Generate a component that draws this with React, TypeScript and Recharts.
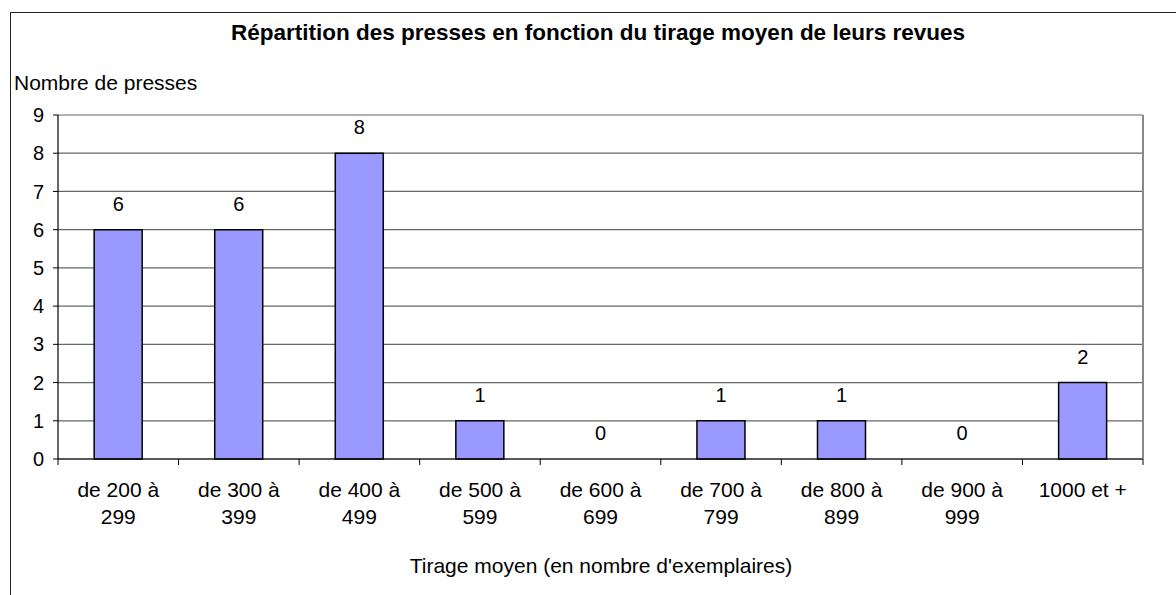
import React from 'react';
import { ComposedChart, Bar, Line, XAxis, YAxis, CartesianGrid, LabelList } from 'recharts';

const categories = [
  'de 200 à\n299',
  'de 300 à\n399',
  'de 400 à\n499',
  'de 500 à\n599',
  'de 600 à\n699',
  'de 700 à\n799',
  'de 800 à\n899',
  'de 900 à\n999',
  '1000 et +',
];
const presses = [6, 6, 8, 1, 0, 1, 1, 0, 2];
const yTicks = [0, 1, 2, 3, 4, 5, 6, 7, 8, 9];

const title = 'Répartition des presses en fonction du tirage moyen de leurs revues';
const yTitle = 'Nombre de presses';
const xTitle = "Tirage moyen (en nombre d'exemplaires)";

const W = 1176;
const H = 595;
const LEFT_AXIS_W = 58;
const RIGHT_AXIS_W = 33;
const PLOT_W = W - LEFT_AXIS_W - RIGHT_AXIS_W;
const FONT = '"Liberation Sans", Arial, sans-serif';

const data = categories.map((category, i) => ({ category, presses: presses[i] }));

const CategoryTick = (props: any) => {
  const { x, y, payload, index, visibleTicksCount } = props;
  const band = PLOT_W / categories.length;
  const lines = String(payload.value).split('\n');
  return (
    <g>
      <line x1={x - band / 2} x2={x - band / 2} y1={y} y2={y + 6} stroke="#000" />
      {index === visibleTicksCount - 1 && (
        <line x1={x + band / 2} x2={x + band / 2} y1={y} y2={y + 6} stroke="#000" />
      )}
      <text textAnchor="middle" fontSize={21} fill="#000" fontFamily={FONT}>
        {lines.map((l, i) => (
          <tspan key={i} x={x} y={y + 38 + i * 27}>
            {l}
          </tspan>
        ))}
      </text>
    </g>
  );
};

export default function App() {
  return (
    <div style={{ position: 'relative', width: W, height: H, overflow: 'hidden', background: '#fff' }}>
      <style>{`body{margin:0}`}</style>
      <ComposedChart
        width={W}
        height={H}
        data={data}
        margin={{ top: 115, right: 0, left: 0, bottom: 0 }}
        barCategoryGap="30%"
        style={{ fontFamily: FONT }}
      >
        <CartesianGrid vertical={false} stroke="#666" strokeWidth={1.2} />
        <XAxis
          dataKey="category"
          interval={0}
          height={H - 459}
          tickSize={0}
          tickMargin={0}
          tickLine={false}
          axisLine={{ stroke: '#000', strokeWidth: 1.2 }}
          tick={<CategoryTick />}
        />
        <YAxis
          width={LEFT_AXIS_W}
          domain={[0, 9]}
          ticks={yTicks}
          interval={0}
          tickSize={5}
          tickMargin={9}
          axisLine={{ stroke: '#000', strokeWidth: 1.2 }}
          tickLine={{ stroke: '#000' }}
          tick={{ fontSize: 20, fill: '#000', fontFamily: FONT }}
        />
        <YAxis
          yAxisId="r"
          orientation="right"
          width={RIGHT_AXIS_W}
          domain={[0, 9]}
          ticks={yTicks}
          tick={false}
          tickLine={false}
          axisLine={{ stroke: '#888', strokeWidth: 2 }}
        />
        <Bar dataKey="presses" fill="#9999FF" stroke="#000" strokeWidth={1.5} isAnimationActive={false} />
        <Line
          dataKey="presses"
          stroke="none"
          dot={false}
          activeDot={false}
          legendType="none"
          isAnimationActive={false}
        >
          <LabelList dataKey="presses" position="top" offset={19} fill="#000" fontSize={20} fontFamily={FONT} />
        </Line>
      </ComposedChart>
      <svg
        width={W}
        height={H}
        style={{ position: 'absolute', left: 0, top: 0, pointerEvents: 'none' }}
        fontFamily={FONT}
      >
        <text x={598} y={40} textAnchor="middle" fontWeight="bold" fontSize={22.5} fill="#000">
          {title}
        </text>
        <text x={14} y={90} fontSize={21} fill="#000">
          {yTitle}
        </text>
        <text x={601} y={573} textAnchor="middle" fontSize={21} fill="#000">
          {xTitle}
        </text>
      </svg>
      <div
        style={{
          position: 'absolute',
          left: 10,
          top: 12,
          width: 1400,
          height: 800,
          border: '1px solid #222',
          pointerEvents: 'none',
        }}
      />
    </div>
  );
}
